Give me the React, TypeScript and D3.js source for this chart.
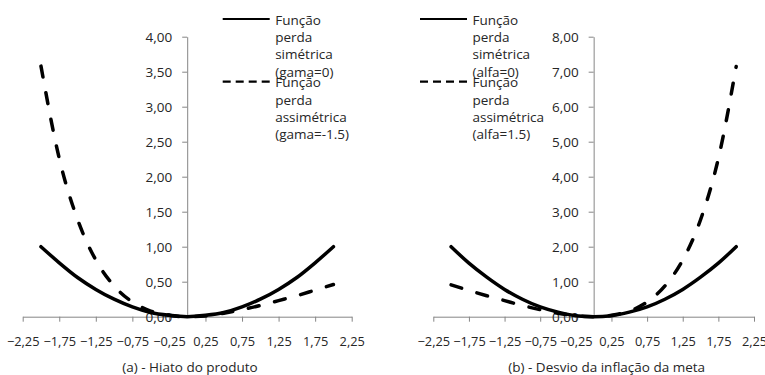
import React, { useRef, useEffect } from "react";
import * as d3 from "d3";

// desvio (x) from -2 to 2
const desvios = [-2, -1.75, -1.5, -1.25, -1, -0.75, -0.5, -0.25, 0, 0.25, 0.5, 0.75, 1, 1.25, 1.5, 1.75, 2];

// (a) hiato do produto
const hiatoSimetrica = [1.0, 0.77, 0.56, 0.39, 0.25, 0.14, 0.06, 0.02, 0, 0.02, 0.06, 0.14, 0.25, 0.39, 0.56, 0.77, 1.0];
const hiatoAssimetrica = [3.58, 2.26, 1.39, 0.81, 0.44, 0.21, 0.08, 0.02, 0, 0.01, 0.05, 0.1, 0.16, 0.23, 0.3, 0.38, 0.46];

// (b) desvio da inflação da meta
const inflSimetrica = [2.0, 1.53, 1.13, 0.78, 0.5, 0.28, 0.13, 0.03, 0, 0.03, 0.13, 0.28, 0.5, 0.78, 1.13, 1.53, 2.0];
const inflAssimetrica = [0.91, 0.75, 0.6, 0.46, 0.32, 0.2, 0.1, 0.03, 0, 0.04, 0.16, 0.42, 0.88, 1.62, 2.77, 4.52, 7.15];

const xTicks = [-2.25, -1.75, -1.25, -0.75, -0.25, 0.25, 0.75, 1.25, 1.75, 2.25];
const yTicksA = [0, 0.5, 1, 1.5, 2, 2.5, 3, 3.5, 4];
const yTicksB = [0, 1, 2, 3, 4, 5, 6, 7, 8];

const legendA = [
  ["Função", "perda", "simétrica", "(gama=0)"],
  ["Função", "perda", "assimétrica", "(gama=-1.5)"],
];
const legendB = [
  ["Função", "perda", "simétrica", "(alfa=0)"],
  ["Função", "perda", "assimétrica", "(alfa=1.5)"],
];

const fmt = (v) => d3.format(".2f")(v).replace(".", ",");
const FONT = "'Open Sans', sans-serif";
const TICK_FS = 12.8;
const FS = 13.5;
const TXT = "#262626";

function drawPanel(svg, p) {
  const x = d3.scaleLinear().domain([-2.25, 2.25]).range(p.xRange);
  const y = d3.scaleLinear().domain([0, p.yMax]).range([316.7, 36.7]);

  const g = svg.append("g");

  // x axis
  const xa = g
    .append("g")
    .attr("transform", `translate(0,${y(0)})`)
    .call(d3.axisBottom(x).tickValues(xTicks).tickSize(5).tickSizeOuter(0).tickFormat(fmt));
  xa.select(".domain").attr("stroke", "#868686");
  xa.selectAll(".tick line").attr("stroke", "#868686");
  xa.selectAll("text")
    .attr("font-family", FONT)
    .attr("font-size", TICK_FS)
    .attr("fill", TXT)
    .attr("dy", "1.65em");

  // y axis at x = 0
  const ya = g
    .append("g")
    .attr("transform", `translate(${x(0)},0)`)
    .call(d3.axisLeft(y).tickValues(p.yTicks).tickSize(5).tickSizeOuter(0).tickFormat(fmt));
  ya.select(".domain").attr("stroke", "#868686");
  ya.selectAll(".tick line").attr("stroke", "#868686");
  ya.selectAll("text")
    .attr("font-family", FONT)
    .attr("font-size", FS)
    .attr("fill", TXT)
    .attr("x", -15);

  const line = d3
    .line()
    .x((d, i) => x(desvios[i]))
    .y((d) => y(d))
    .curve(d3.curveMonotoneX);

  g.append("path")
    .attr("d", line(p.sim))
    .attr("fill", "none")
    .attr("stroke", "#000")
    .attr("stroke-width", 3.5)
    .attr("stroke-linecap", "round");

  g.append("path")
    .attr("d", line(p.assim))
    .attr("fill", "none")
    .attr("stroke", "#000")
    .attr("stroke-width", 3.5)
    .attr("stroke-linecap", "round")
    .attr("stroke-dasharray", "11,16");

  // legend
  p.legend.forEach((lines, k) => {
    const top = k === 0 ? 19 : 81.7;
    g.append("line")
      .attr("x1", p.legX)
      .attr("x2", p.legX + 47)
      .attr("y1", top)
      .attr("y2", top)
      .attr("stroke", "#000")
      .attr("stroke-width", 2.2)
      .attr("stroke-dasharray", k === 0 ? null : "8,5");
    lines.forEach((t, j) => {
      g.append("text")
        .attr("x", p.legX + 52.5)
        .attr("y", top + 1 + j * 17.3)
        .attr("dy", "0.35em")
        .attr("font-family", FONT)
        .attr("font-size", FS)
        .attr("fill", TXT)
        .text(t);
    });
  });

  g.append("text")
    .attr("x", p.titleX)
    .attr("y", 367)
    .attr("dy", "0.35em")
    .attr("text-anchor", "middle")
    .attr("font-family", FONT)
    .attr("font-size", FS)
    .attr("fill", TXT)
    .text(p.title);
}

export default function App() {
  const ref = useRef(null);

  useEffect(() => {
    const svg = d3.select(ref.current);
    svg.selectAll("*").remove();
    drawPanel(svg, {
      xRange: [22.7, 351.7],
      yMax: 4,
      yTicks: yTicksA,
      sim: hiatoSimetrica,
      assim: hiatoAssimetrica,
      legend: legendA,
      legX: 222.7,
      title: "(a) - Hiato do produto",
      titleX: 190,
    });
    drawPanel(svg, {
      xRange: [433.3, 754],
      yMax: 8,
      yTicks: yTicksB,
      sim: inflSimetrica,
      assim: inflAssimetrica,
      legend: legendB,
      legX: 420,
      title: "(b) - Desvio da inflação da meta",
      titleX: 606.7,
    });
  }, []);

  return (
    <svg
      ref={ref}
      width={765}
      height={375}
      style={{ position: "absolute", left: 0, top: 0, background: "#fff" }}
    />
  );
}
